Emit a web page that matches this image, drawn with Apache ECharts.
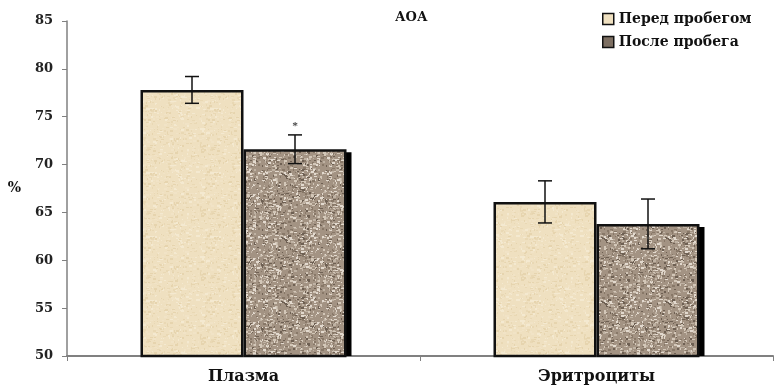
<!DOCTYPE html>
<html>
<head>
<meta charset="utf-8">
<script src="https://cdn.jsdelivr.net/npm/echarts@6/dist/echarts.min.js"></script>
<style>
  html, body { margin: 0; padding: 0; background: #fff; }
  #chart { width: 774px; height: 386px; }
</style>
</head>
<body>
<div id="chart"></div>
<script>
const categories = ["Плазма", "Эритроциты"]
const seriesNames = ["Перед пробегом", "После пробега"]
const beforeValues = [77.8, 66.1]
const afterValues = [71.6, 63.8]
const beforeErrors = [1.4, 2.2]
const afterErrors = [1.5, 2.6]
const afterMarks = ["*", ""]
const yTicks = [50, 55, 60, 65, 70, 75, 80, 85]

const FONT = "DejaVu Serif"
const BAR_W = 103

// small deterministic speckle textures for the two fills
function makeTexture(base, spots, seed, count) {
  const c = document.createElement("canvas")
  c.width = 64
  c.height = 64
  const ctx = c.getContext("2d")
  ctx.fillStyle = base
  ctx.fillRect(0, 0, 64, 64)
  let s = seed
  const rnd = () => {
    s = (s * 1103515245 + 12345) & 0x7fffffff
    return s / 0x7fffffff
  }
  for (let i = 0; i < count; i++) {
    ctx.fillStyle = spots[Math.floor(rnd() * spots.length)]
    ctx.fillRect(Math.floor(rnd() * 64), Math.floor(rnd() * 64), 1 + Math.floor(rnd() * 3), 1 + Math.floor(rnd() * 2))
  }
  return c
}

const beigeTex = makeTexture("#efe0c0", ["#f4e9d0", "#e9d8b4", "#f1e3c6", "#e6d4ae"], 7, 500)
const greyTex = makeTexture("#a39383", ["#d3c7b8", "#6e6053", "#bfb2a3", "#887868", "#e2d9ce"], 13, 700)

const chart = echarts.init(document.getElementById("chart"))

// black drop shadow to the right of the "after" bars
// (custom series coords sit at the category centre; the "after" bar spans centre..centre+BAR_W)
const shadowSeries = {
  type: "custom",
  z: 1,
  silent: true,
  data: afterValues.map((v, i) => [i, v]),
  renderItem: (params, api) => {
    const top = api.coord([api.value(0), api.value(1)])
    const base = api.coord([api.value(0), yTicks[0]])
    const x = top[0] + BAR_W - 1
    return {
      type: "rect",
      shape: { x: x, y: top[1] + 3, width: 6, height: base[1] - top[1] - 3 },
      style: { fill: "#000" },
    }
  },
}

function errorSeries(values, errors, marks, seriesIndex) {
  return {
    type: "custom",
    z: 10,
    silent: true,
    data: values.map((v, i) => [i, v, errors[i], marks ? marks[i] : ""]),
    renderItem: (params, api) => {
      const idx = api.value(0)
      const v = api.value(1)
      const e = api.value(2)
      const center = api.coord([idx, v])
      const x = center[0] + (seriesIndex === 0 ? -1 : 1) * BAR_W / 2
      const top = api.coord([idx, v + e])[1]
      const bot = api.coord([idx, v - e])[1]
      const style = { stroke: "#111", lineWidth: 1.5 }
      const children = [
        { type: "line", shape: { x1: x, y1: top, x2: x, y2: bot }, style },
        { type: "line", shape: { x1: x - 7, y1: top, x2: x + 7, y2: top }, style },
        { type: "line", shape: { x1: x - 7, y1: bot, x2: x + 7, y2: bot }, style },
      ]
      const mark = api.value(3)
      if (mark) {
        children.push({
          type: "text",
          style: {
            text: mark, x: x, y: top - 8, align: "center", verticalAlign: "middle",
            font: "bold 10px " + FONT, fill: "#333",
          },
        })
      }
      return { type: "group", children }
    },
  }
}

const option = {
  animation: false,
  title: {
    text: "АОА",
    left: 390,
    top: 6,
    textStyle: { fontFamily: FONT, fontWeight: "bold", fontSize: 13, color: "#111" },
  },
  legend: {
    data: seriesNames.map((n, i) => ({
      name: n,
      itemStyle: { color: i === 0 ? "#efe0c0" : "#7d6f62", borderColor: "#111", borderWidth: 1.5 },
    })),
    orient: "vertical",
    left: 597,
    top: 7,
    itemWidth: 11,
    itemHeight: 11,
    itemGap: 9,
    icon: "rect",
    textStyle: { fontFamily: FONT, fontWeight: "bold", fontSize: 14, color: "#111" },
  },
  grid: { left: 67, right: 1, top: 21, bottom: 30 },
  xAxis: {
    type: "category",
    data: categories,
    axisLine: { lineStyle: { color: "#808080", width: 2 } },
    axisTick: { show: true, length: 5, lineStyle: { color: "#808080" } },
    axisLabel: {
      fontFamily: FONT, fontWeight: "bold", fontSize: 16, color: "#111", margin: 13,
    },
  },
  yAxis: {
    type: "value",
    min: yTicks[0],
    max: yTicks[yTicks.length - 1],
    interval: 5,
    name: "%",
    nameLocation: "middle",
    nameRotate: 0,
    nameGap: 46,
    nameTextStyle: { fontFamily: FONT, fontWeight: "bold", fontSize: 14, color: "#111" },
    axisLine: { show: true, lineStyle: { color: "#808080", width: 1.5 } },
    axisTick: { show: true, length: 5, lineStyle: { color: "#808080" } },
    splitLine: { show: false },
    axisLabel: {
      fontFamily: FONT, fontWeight: "bold", fontSize: 13, color: "#222", margin: 14,
    },
  },
  series: [
    shadowSeries,
    {
      name: seriesNames[0],
      type: "bar",
      data: beforeValues,
      barWidth: BAR_W,
      barGap: "0%",
      z: 2,
      itemStyle: {
        color: { image: beigeTex, repeat: "repeat" },
        borderColor: "#111",
        borderWidth: 2.5,
      },
    },
    {
      name: seriesNames[1],
      type: "bar",
      data: afterValues,
      barWidth: BAR_W,
      barGap: "0%",
      z: 2,
      itemStyle: {
        color: { image: greyTex, repeat: "repeat" },
        borderColor: "#111",
        borderWidth: 2.5,
      },
    },
    errorSeries(beforeValues, beforeErrors, null, 0),
    errorSeries(afterValues, afterErrors, afterMarks, 1),
  ],
}

chart.setOption(option)
</script>
</body>
</html>
